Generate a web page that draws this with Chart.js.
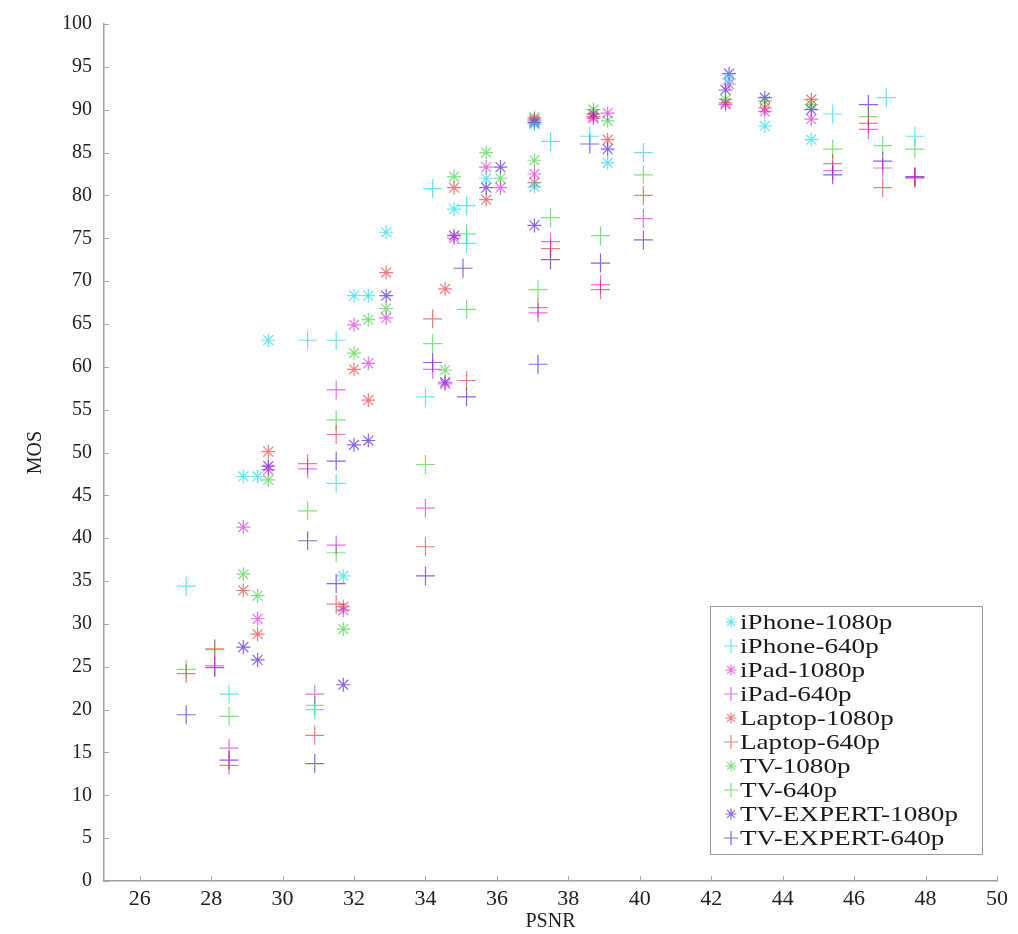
<!DOCTYPE html>
<html>
<head>
<meta charset="utf-8">
<script src="https://cdn.jsdelivr.net/npm/chart.js@4.4.0/dist/chart.umd.min.js"></script>
<style>
  html, body { margin: 0; padding: 0; background: #fff; }
</style>
</head>
<body>
<canvas id="myChart" width="1018" height="934"></canvas>
<script>
var seriesNames = ["iPhone-1080p", "iPhone-640p", "iPad-1080p", "iPad-640p", "Laptop-1080p",
  "Laptop-640p", "TV-1080p", "TV-640p", "TV-EXPERT-1080p", "TV-EXPERT-640p"];

var xTicks = [26, 28, 30, 32, 34, 36, 38, 40, 42, 44, 46, 48, 50];
var yTicks = [0, 5, 10, 15, 20, 25, 30, 35, 40, 45, 50, 55, 60, 65, 70, 75, 80, 85, 90, 95, 100];

// PSNR / MOS per series
var iphone1080X = [28.9, 29.3, 29.6, 31.7, 32.0, 32.4, 32.9, 34.8, 35.7, 37.05, 37.05, 39.1, 42.5, 43.5, 44.8];
var iphone1080Y = [47.2, 47.2, 63.1, 35.6, 68.3, 68.3, 75.7, 78.4, 82.0, 88.3, 81.0, 83.8, 93.6, 88.1, 86.5];

var iphone640X = [27.3, 28.5, 30.7, 30.9, 31.5, 31.5, 34.0, 34.2, 35.15, 35.15, 37.5, 38.6, 40.1, 45.4, 46.9, 47.7];
var iphone640Y = [34.4, 21.8, 63.1, 20.0, 63.1, 46.4, 56.5, 80.8, 78.8, 74.4, 86.3, 86.9, 85.0, 89.5, 91.4, 86.9];

var ipad1080X = [28.9, 29.3, 29.6, 31.7, 32.0, 32.4, 32.9, 34.55, 34.8, 35.7, 36.1, 37.05, 37.05, 38.7, 39.1, 42.4, 42.5, 43.5, 44.8];
var ipad1080Y = [41.3, 30.6, 48.0, 31.6, 64.9, 60.4, 65.7, 58.0, 75.0, 83.3, 80.9, 88.7, 82.5, 89.0, 89.6, 90.6, 93.0, 89.8, 88.9];

var ipad640X = [28.1, 28.5, 30.7, 30.9, 31.5, 31.5, 34.0, 34.2, 37.15, 37.5, 38.9, 40.1, 45.4, 46.4, 46.8, 47.7];
var ipad640Y = [25.1, 15.5, 48.1, 21.8, 57.3, 39.2, 43.5, 59.7, 66.3, 74.6, 69.6, 77.3, 82.9, 87.7, 83.2, 82.0];

var laptop1080X = [28.9, 29.3, 29.6, 31.7, 32.0, 32.4, 32.9, 34.55, 34.8, 35.7, 37.05, 37.05, 38.7, 39.1, 42.4, 43.5, 44.8];
var laptop1080Y = [33.9, 28.8, 50.1, 32.0, 59.7, 56.1, 71.0, 69.1, 80.9, 79.5, 88.9, 81.5, 89.2, 86.5, 90.8, 90.2, 91.2];

var laptop640X = [27.3, 28.1, 28.5, 30.7, 30.9, 31.5, 31.5, 34.0, 34.2, 35.15, 37.15, 37.5, 38.9, 40.1, 45.4, 46.4, 46.8, 47.7];
var laptop640Y = [24.2, 27.1, 13.5, 48.7, 17.0, 52.1, 32.3, 39.0, 65.6, 58.4, 66.9, 73.8, 69.0, 80.0, 83.7, 88.4, 80.9, 82.1];

var tv1080X = [28.9, 29.3, 29.6, 31.7, 32.0, 32.4, 32.9, 34.55, 34.8, 35.7, 36.1, 37.05, 37.05, 38.7, 39.1, 42.4, 43.5, 44.8];
var tv1080Y = [35.8, 33.3, 46.8, 29.4, 61.6, 65.5, 66.8, 59.6, 82.2, 85.0, 82.0, 89.1, 84.1, 90.0, 88.7, 91.2, 91.0, 90.6];

var tv640X = [27.3, 28.1, 28.5, 30.7, 30.9, 31.5, 31.5, 34.0, 34.2, 35.15, 35.15, 37.15, 37.5, 38.9, 40.1, 45.4, 46.4, 46.8, 47.7];
var tv640Y = [24.7, 27.0, 19.2, 43.2, 20.5, 53.8, 38.3, 48.6, 62.7, 75.5, 66.7, 69.0, 77.4, 75.3, 82.4, 85.4, 89.2, 85.8, 85.4];

var expert1080X = [28.9, 29.3, 29.6, 31.7, 32.0, 32.4, 32.9, 34.55, 34.8, 35.7, 36.1, 37.05, 37.05, 38.7, 39.1, 42.4, 42.5, 43.5, 44.8];
var expert1080Y = [27.3, 25.8, 48.4, 22.9, 50.9, 51.4, 68.3, 58.2, 75.3, 80.9, 83.3, 88.5, 76.5, 89.5, 85.4, 92.3, 94.2, 91.4, 90.0];

var expert640X = [27.3, 28.1, 28.5, 30.7, 30.9, 31.5, 31.5, 34.0, 34.2, 35.05, 35.15, 37.15, 37.5, 38.6, 38.9, 40.1, 45.4, 46.4, 46.8, 47.7];
var expert640Y = [19.4, 24.9, 14.1, 39.7, 13.7, 49.0, 34.7, 35.6, 60.5, 71.5, 56.5, 60.3, 72.5, 86.0, 72.1, 74.8, 82.4, 90.6, 84.0, 82.2];

var seriesX = [iphone1080X, iphone640X, ipad1080X, ipad640X, laptop1080X, laptop640X, tv1080X, tv640X, expert1080X, expert640X];
var seriesY = [iphone1080Y, iphone640Y, ipad1080Y, ipad640Y, laptop1080Y, laptop640Y, tv1080Y, tv640Y, expert1080Y, expert640Y];

var deviceColors = [
  "rgba(0, 215, 225, 0.6)",
  "rgba(215, 0, 215, 0.55)",
  "rgba(225, 20, 20, 0.55)",
  "rgba(0, 200, 0, 0.5)",
  "rgba(60, 0, 220, 0.6)"
];

var serif = "'Liberation Serif', 'DejaVu Serif', serif";

function points(xs, ys) {
  var out = [];
  for (var i = 0; i < xs.length; i++) {
    out.push({ x: xs[i], y: ys[i] });
  }
  return out;
}

var datasets = [];
for (var i = 0; i < seriesNames.length; i++) {
  var isStar = i % 2 == 0;
  var color = deviceColors[Math.floor(i / 2)];
  datasets.push({
    label: seriesNames[i],
    data: points(seriesX[i], seriesY[i]),
    pointStyle: isStar ? "star" : "cross",
    pointRadius: isStar ? 7 : 9.5,
    pointHoverRadius: isStar ? 7 : 9.5,
    borderColor: color,
    backgroundColor: color,
    borderWidth: 1.2,
    showLine: false
  });
}

// inward tick marks + legend box
var extras = {
  id: "extras",
  afterDraw: function (chart) {
    var ctx = chart.ctx;
    var xs = chart.scales.x;
    var ys = chart.scales.y;
    var area = chart.chartArea;
    ctx.save();
    ctx.strokeStyle = "#a8a8a8";
    ctx.lineWidth = 1;
    xTicks.forEach(function (v) {
      var px = Math.round(xs.getPixelForValue(v)) + 0.5;
      ctx.beginPath();
      ctx.moveTo(px, area.bottom);
      ctx.lineTo(px, area.bottom - 5);
      ctx.stroke();
    });
    yTicks.forEach(function (v) {
      var py = Math.round(ys.getPixelForValue(v)) + 0.5;
      ctx.beginPath();
      ctx.moveTo(area.left, py);
      ctx.lineTo(area.left + 5, py);
      ctx.stroke();
    });

    // legend
    var bx = 710.5, by = 606.5, bw = 272, bh = 248;
    ctx.fillStyle = "#fff";
    ctx.fillRect(bx, by, bw, bh);
    ctx.strokeStyle = "#9a9a9a";
    ctx.lineWidth = 1;
    ctx.strokeRect(bx, by, bw, bh);

    ctx.font = "21px " + serif;
    var sx = 218 / ctx.measureText("TV-EXPERT-1080p").width;
    chart.data.datasets.forEach(function (ds, k) {
      var cy = 622 + k * 24;
      var mx = 731;
      ctx.strokeStyle = ds.borderColor;
      ctx.lineWidth = 1.2;
      ctx.beginPath();
      if (ds.pointStyle == "star") {
        var r = 5.5;
        for (var a = 0; a < 4; a++) {
          var ang = a * Math.PI / 4;
          ctx.moveTo(mx - r * Math.cos(ang), cy - r * Math.sin(ang));
          ctx.lineTo(mx + r * Math.cos(ang), cy + r * Math.sin(ang));
        }
      } else {
        ctx.moveTo(mx - 7, cy);
        ctx.lineTo(mx + 7, cy);
        ctx.moveTo(mx, cy - 7);
        ctx.lineTo(mx, cy + 7);
      }
      ctx.stroke();

      ctx.save();
      ctx.translate(740, cy);
      ctx.scale(sx, 1);
      ctx.fillStyle = "#1a1a1a";
      ctx.textAlign = "left";
      ctx.textBaseline = "middle";
      ctx.fillText(ds.label, 0, 1);
      ctx.restore();
    });
    ctx.restore();
  }
};

var ctx = document.getElementById("myChart").getContext("2d");
var chart = new Chart(ctx, {
  type: "scatter",
  data: { datasets: datasets },
  options: {
    responsive: false,
    animation: false,
    layout: { padding: { top: 17, right: 21, left: 0, bottom: 0 } },
    plugins: {
      legend: { display: false },
      tooltip: { enabled: false }
    },
    scales: {
      x: {
        type: "linear",
        min: 25,
        max: 50,
        afterBuildTicks: function (scale) {
          scale.ticks = xTicks.map(function (v) { return { value: v }; });
        },
        afterFit: function (scale) { scale.height = 53; },
        ticks: {
          color: "#222",
          padding: 5,
          maxRotation: 0,
          autoSkip: false,
          font: { family: serif, size: 22 }
        },
        grid: { drawOnChartArea: false, drawTicks: false },
        border: { color: "#a0a0a0", width: 1.5 },
        title: {
          display: true,
          text: "PSNR",
          color: "#222",
          font: { family: serif, size: 20 },
          padding: { top: 0, bottom: 0 }
        }
      },
      y: {
        type: "linear",
        min: 0,
        max: 100,
        afterBuildTicks: function (scale) {
          scale.ticks = yTicks.map(function (v) { return { value: v }; });
        },
        afterFit: function (scale) { scale.width = 104; },
        ticks: {
          color: "#222",
          padding: 12,
          autoSkip: false,
          font: { family: serif, size: 20 }
        },
        grid: { drawOnChartArea: false, drawTicks: false },
        border: { color: "#a0a0a0", width: 1.5 },
        title: {
          display: true,
          text: "MOS",
          color: "#222",
          font: { family: serif, size: 20 },
          padding: { top: 24, bottom: 0 }
        }
      }
    }
  },
  plugins: [extras]
});
</script>
</body>
</html>
